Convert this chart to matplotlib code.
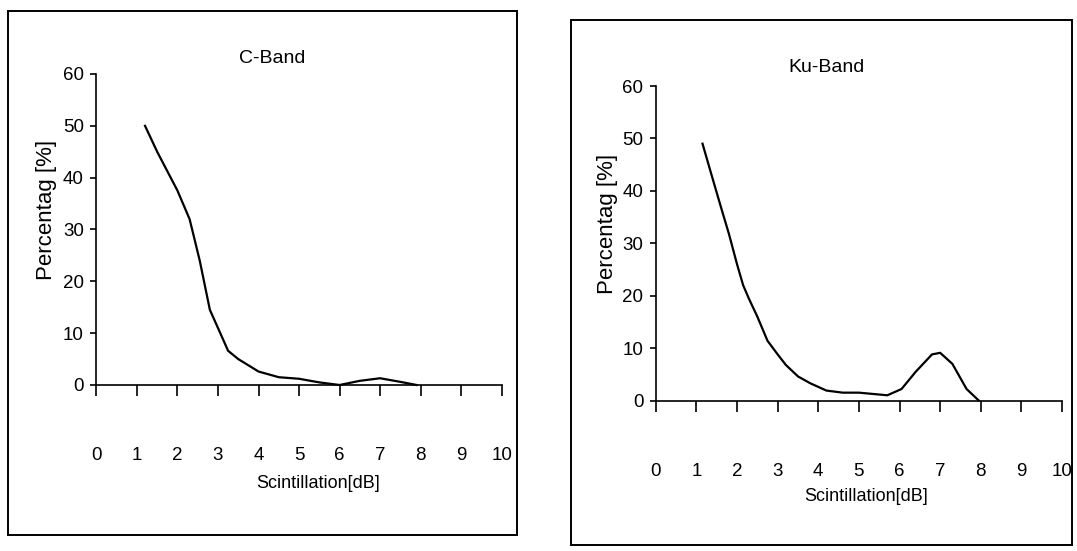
import matplotlib.pyplot as plt
from matplotlib.patches import Rectangle

plt.rcParams['font.family'] = ['Liberation Sans', 'DejaVu Sans']

# values
c_x = [1.2, 1.5, 2.0, 2.3, 2.55, 2.8, 3.0, 3.25, 3.5, 4.0, 4.5, 5.0, 5.5, 6.0, 6.5, 7.0, 7.5, 7.9]
c_y = [50, 45, 37.5, 32, 24, 14.5, 11, 6.6, 5, 2.6, 1.5, 1.2, 0.5, 0, 0.8, 1.3, 0.6, 0]

ku_x = [1.15, 1.4, 1.6, 1.8, 2.0, 2.15, 2.3, 2.5, 2.75, 3.0, 3.2, 3.5, 3.8, 4.2, 4.6, 5.0, 5.7,
        6.05, 6.4, 6.8, 7.0, 7.3, 7.65, 7.95]
ku_y = [49, 42.3, 37, 31.8, 26, 22, 19.3, 16, 11.4, 8.8, 6.8, 4.6, 3.3, 1.9, 1.5, 1.5, 1.0,
        2.2, 5.5, 8.8, 9.1, 7, 2.2, 0]

x_ticks = list(range(0, 11))
y_ticks = [0, 10, 20, 30, 40, 50, 60]

fig = plt.figure(figsize=(10.77, 5.51), dpi=100)

# frames around each chart
for x0, y0, w, h in [(8, 11, 509, 524), (571, 20, 501, 525)]:
    fig.add_artist(Rectangle((x0 / 1077, 1 - (y0 + h) / 551), w / 1077, h / 551,
                             transform=fig.transFigure, fill=False,
                             edgecolor='black', linewidth=1.4))

panels = [
    ([0.0895, 0.3013, 0.3763, 0.5644], c_x, c_y, 'C-Band', (0.433, 1.05), (-0.123, 0.563), (0.546, -0.318)),
    ([0.6089, 0.2731, 0.3772, 0.5708], ku_x, ku_y, 'Ku-Band', (0.419, 1.06), (-0.119, 0.562), (0.517, -0.304)),
]

for rect, xs, ys, title, tpos, ylpos, xlpos in panels:
    ax = fig.add_axes(rect)
    ax.plot(xs, ys, color='black', linewidth=1.6, clip_on=False)
    ax.set_xlim(0, 10)
    ax.set_ylim(0, 60)
    ax.set_xticks(x_ticks)
    ax.set_yticks(y_ticks)
    ax.spines['top'].set_visible(False)
    ax.spines['right'].set_visible(False)
    ax.spines['left'].set_linewidth(1.2)
    ax.spines['bottom'].set_linewidth(1.2)
    ax.tick_params(axis='x', direction='out', length=8, width=1.2, pad=37, labelsize=13.5)
    ax.tick_params(axis='y', direction='out', length=4, width=1.2, pad=5, labelsize=13.5)
    ax.text(tpos[0], tpos[1], title, transform=ax.transAxes, ha='center', va='center', fontsize=14)
    ax.set_ylabel('Percentag [%]', fontsize=16)
    ax.yaxis.set_label_coords(*ylpos)
    ax.set_xlabel('Scintillation[dB]', fontsize=13)
    ax.xaxis.set_label_coords(*xlpos)
    ax.xaxis.label.set_va('center')
    ax.yaxis.label.set_va('center')

plt.savefig('out.png', dpi=100)
